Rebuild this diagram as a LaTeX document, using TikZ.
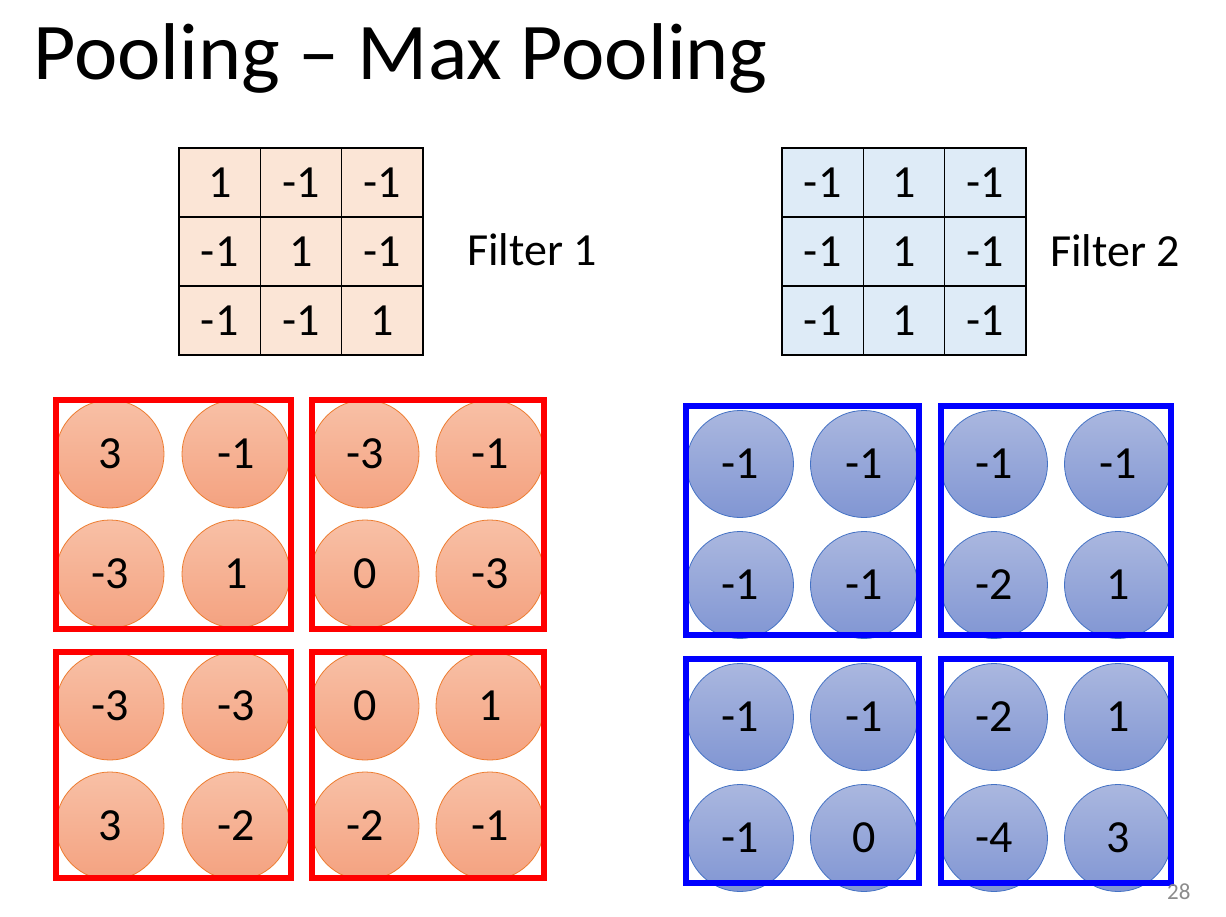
\documentclass[tikz,border=0pt]{standalone}
\usepackage{fontspec}
\setmainfont{Carlito}
\definecolor{fone}{HTML}{FBE5D6}
\definecolor{ftwo}{HTML}{DEEBF7}
\definecolor{rtop}{HTML}{F8C0A6}
\definecolor{rbot}{HTML}{F4A280}
\definecolor{rline}{HTML}{ED7D31}
\definecolor{btop}{HTML}{AAB7DF}
\definecolor{bbot}{HTML}{8196D3}
\definecolor{bline}{HTML}{4472C4}
\definecolor{pgnum}{HTML}{8C8C8C}
\tikzset{
  cellA/.style={draw=black, line width=1.3pt, fill=fone, minimum width=81.33pt, minimum height=69pt, inner sep=0pt, font=\fontsize{46}{50}\selectfont},
  cellB/.style={cellA, fill=ftwo},
  redc/.style={circle, draw=rline, line width=0.8pt, top color=rtop, bottom color=rbot, minimum size=108pt, inner sep=0pt, font=\fontsize{46}{50}\selectfont},
  bluec/.style={circle, draw=bline, line width=0.8pt, top color=btop, bottom color=bbot, minimum size=107pt, inner sep=0pt, font=\fontsize{46}{50}\selectfont},
  redbox/.style={draw=red, line width=6pt, inner sep=0pt},
  bluebox/.style={draw=blue, line width=6pt, inner sep=0pt},
  lbl/.style={anchor=base west, inner sep=0pt, font=\fontsize{46}{50}\selectfont}
}
\begin{document}
\begin{tikzpicture}[x=1pt,y=-1pt]
\useasboundingbox[fill=white] (0,0) rectangle (1226,917);
\node[anchor=base west, inner sep=0pt, xscale=1.02, font=\fontsize{80.5}{90}\selectfont] (title) at (33,80) {Pooling – Max Pooling};
% Filter 1
\foreach \v [count=\i from 0] in {1,-1,-1,-1,1,-1,-1,-1,1}{
  \pgfmathtruncatemacro{\r}{int(\i/3)}
  \pgfmathtruncatemacro{\c}{mod(\i,3)}
  \node[cellA] (fa\i) at ({179+81.33*(\c+0.5)},{148+69*(\r+0.5)}) {\v};
}
\node[lbl] (fonelbl) at (467,266) {Filter 1};
% Filter 2
\foreach \v [count=\i from 0] in {-1,1,-1,-1,1,-1,-1,1,-1}{
  \pgfmathtruncatemacro{\r}{int(\i/3)}
  \pgfmathtruncatemacro{\c}{mod(\i,3)}
  \node[cellB] (fb\i) at ({782+81.33*(\c+0.5)},{148+69*(\r+0.5)}) {\v};
}
\node[lbl] (ftwolbl) at (1050,267) {Filter 2};
% red circles
\foreach \x/\y/\v [count=\i] in {110/454/3,236/454/-1,110/574/-3,236/574/1,
  365/454/-3,490/454/-1,365/574/0,490/574/-3,
  110/706/-3,236/706/-3,110/826/3,236/826/-2,
  365/706/0,490/706/1,365/826/-2,490/826/-1}{
  \node[redc] (rc\i) at (\x,\y) {\v};
}
% blue circles
\foreach \x/\y/\v [count=\i] in {740/464/-1,864/464/-1,740/585/-1,864/585/-1,
  994/464/-1,1118/464/-1,994/585/-2,1118/585/1,
  740/717/-1,864/717/-1,740/838/-1,864/838/0,
  994/717/-2,1118/717/1,994/838/-4,1118/838/3}{
  \node[bluec] (bc\i) at (\x,\y) {\v};
}
% pooling boxes
\node[redbox, minimum width=235pt, minimum height=229.5pt] (ra) at (173.5,514.25) {};
\node[redbox, minimum width=232pt, minimum height=229.5pt] (rb) at (428,514.25) {};
\node[redbox, minimum width=235pt, minimum height=226pt] (rcc) at (173.5,765) {};
\node[redbox, minimum width=232pt, minimum height=226pt] (rd) at (428,765) {};
\node[bluebox, minimum width=233.5pt, minimum height=229pt] (ba) at (802.25,520.5) {};
\node[bluebox, minimum width=230pt, minimum height=229pt] (bb) at (1056,520.5) {};
\node[bluebox, minimum width=233.5pt, minimum height=224pt] (bcc) at (802.25,771) {};
\node[bluebox, minimum width=230pt, minimum height=224pt] (bd) at (1056,771) {};
\node[anchor=base west, inner sep=0pt, text=pgnum, font=\fontsize{23}{26}\selectfont] (pg) at (1167,899) {28};
\end{tikzpicture}
\end{document}
